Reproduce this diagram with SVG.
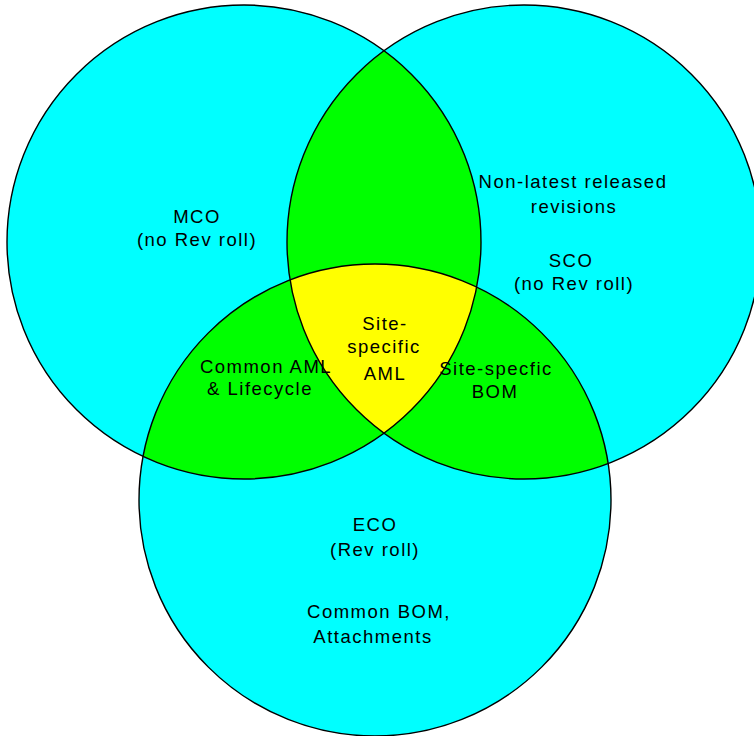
<svg xmlns="http://www.w3.org/2000/svg" width="754" height="736" viewBox="0 0 754 736">
<style>
.cy{fill:#00ffff}
.gr{fill:#00ff00}
.ye{fill:#ffff00}
.ol{fill:none;stroke:#000;stroke-width:1.4}
text{font-family:"Liberation Sans",Arial,sans-serif;font-size:18.5px;fill:#000;text-anchor:middle;letter-spacing:1.5px}
</style>
<defs>
<clipPath id="clipL"><circle cx="244" cy="242" r="237"/></clipPath>
<clipPath id="clipR"><circle cx="524" cy="242" r="237"/></clipPath>
<clipPath id="clipE"><circle cx="375" cy="500" r="236"/></clipPath>
</defs>
<rect width="754" height="736" fill="#fff"/>
<g id="mco"><circle class="cy" cx="244" cy="242" r="237"/></g>
<g id="sco"><circle class="cy" cx="524" cy="242" r="237"/></g>
<g id="eco"><circle class="cy" cx="375" cy="500" r="236"/></g>
<g id="mco-sco"><circle class="gr" cx="244" cy="242" r="237" clip-path="url(#clipR)"/></g>
<g id="mco-eco"><circle class="gr" cx="244" cy="242" r="237" clip-path="url(#clipE)"/></g>
<g id="sco-eco"><circle class="gr" cx="524" cy="242" r="237" clip-path="url(#clipE)"/></g>
<g id="all-three"><g clip-path="url(#clipE)"><circle class="ye" cx="244" cy="242" r="237" clip-path="url(#clipR)"/></g></g>
<g id="connectors">
<circle class="ol" cx="244" cy="242" r="237"/>
<circle class="ol" cx="524" cy="242" r="237"/>
<circle class="ol" cx="375" cy="500" r="236"/>
</g>
<g id="labels">
<text x="197" y="223">MCO</text>
<text x="197" y="246">(no Rev roll)</text>
<text x="573" y="188">Non-latest released</text>
<text x="574" y="213">revisions</text>
<text x="571" y="267">SCO</text>
<text x="574" y="290">(no Rev roll)</text>
<text x="385" y="330">Site-</text>
<text x="384" y="353">specific</text>
<text x="385" y="380">AML</text>
<text x="266" y="373">Common AML</text>
<text x="260" y="395">&amp; Lifecycle</text>
<text x="496" y="375">Site-specfic</text>
<text x="495" y="398">BOM</text>
<text x="375" y="531">ECO</text>
<text x="375" y="556">(Rev roll)</text>
<text x="379" y="618">Common BOM,</text>
<text x="373" y="643">Attachments</text>
</g>
</svg>
